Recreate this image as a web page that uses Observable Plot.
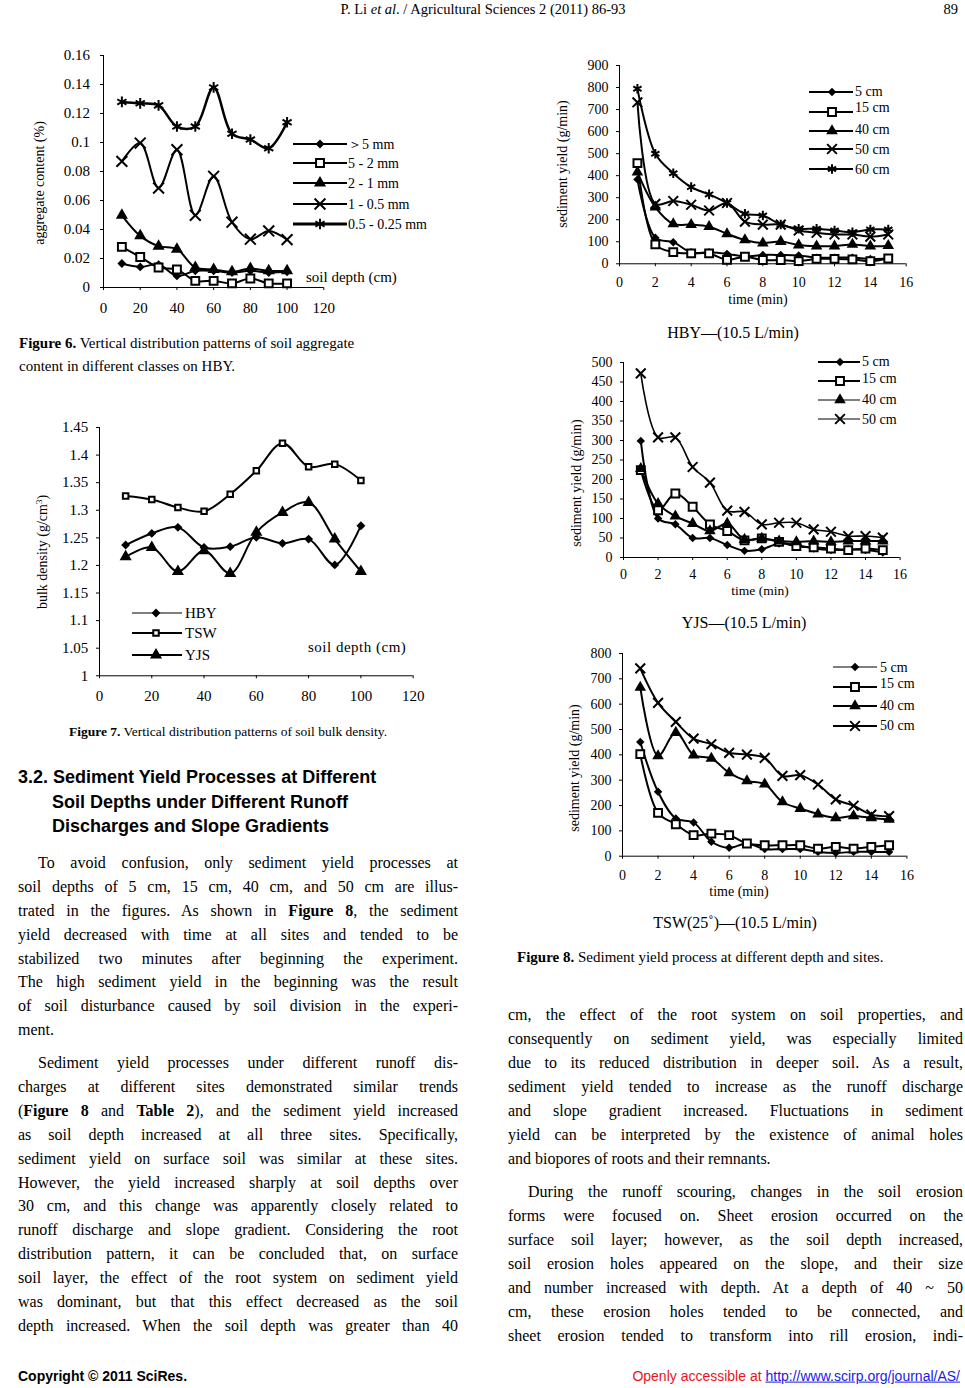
<!DOCTYPE html>
<html><head><meta charset="utf-8">
<script src="https://cdn.jsdelivr.net/npm/d3@7"></script>
<script src="https://cdn.jsdelivr.net/npm/@observablehq/plot@0.6"></script>
<style>
html,body{margin:0;padding:0;background:#fff;}
#page{position:relative;width:965px;height:1388px;overflow:hidden;font-family:"Liberation Serif","Times New Roman",serif;color:#000;background:#fff;}
.t{position:absolute;white-space:nowrap;line-height:1.2;}
.bl{position:absolute;font-size:16px;text-align:justify;text-align-last:justify;overflow:visible;}
.bl.last{text-align-last:left;}
</style></head>
<body><div id="page"></div>
<script>
// ---------------- DATA ----------------
// Figure 6: aggregate content (%) vs soil depth (cm), HBY
const depth = [10,20,30,40,50,60,70,80,90,100];
const aggGt5   = [0.0165,0.0142,0.0158,0.008,0.0115,0.0115,0.0103,0.0115,0.0103,0.0108];
const agg5_2   = [0.028,0.021,0.0138,0.0124,0.0046,0.0046,0.0028,0.0062,0.0028,0.0028];
const agg2_1   = [0.0498,0.0356,0.0285,0.0264,0.0138,0.0124,0.0108,0.0131,0.0115,0.0115];
const agg1_05  = [0.087,0.0996,0.0686,0.095,0.0498,0.0767,0.045,0.0333,0.039,0.033];
const agg05_025= [0.128,0.127,0.1256,0.111,0.111,0.138,0.106,0.102,0.096,0.114];
const aggLabels = ["＞5 mm","5 - 2 mm","2 - 1 mm","1 - 0.5 mm","0.5 - 0.25 mm"];
const fig6XTicks = [0,20,40,60,80,100,120];
const fig6YTicks = [0,0.02,0.04,0.06,0.08,0.1,0.12,0.14,0.16];

// Figure 7: bulk density (g/cm3) vs soil depth (cm)
const bdHBY = [1.237,1.258,1.269,1.2325,1.234,1.251,1.24,1.2477,1.201,1.272];
const bdTSW = [1.326,1.3195,1.305,1.298,1.329,1.3715,1.4216,1.379,1.3836,1.354];
const bdYJS = [1.2156,1.2325,1.189,1.2265,1.1855,1.26,1.296,1.314,1.2477,1.189];
const siteLabels = ["HBY","TSW","YJS"];
const fig7XTicks = [0,20,40,60,80,100,120];
const fig7YTicks = [1,1.05,1.1,1.15,1.2,1.25,1.3,1.35,1.4,1.45];

// Figure 8: sediment yield (g/min) vs time (min)
const time = [1,2,3,4,5,6,7,8,9,10,11,12,13,14,15];
const hby5  = [383,118,98,52,52,45,33,40,40,38,28,28,28,22,24];
const hby15 = [457,88,53,47,47,18,32,17,17,12,22,22,20,12,24];
const hby40 = [416,257,181,178,168,136,108,94,101,85,80,80,88,80,82];
const hby50 = [733,272,285,268,242,276,191,178,178,151,141,133,133,123,133];
const hby60 = [794,499,411,348,315,276,227,219,178,159,159,151,143,156,156];
const yjs5  = [299,100,85,50,50,32,17,21,36,32,23,19,21,19,13];
const yjs15 = [224,121,164,130,85,68,44,49,40,29,26,23,19,23,19];
const yjs40 = [228,138,106,87,68,87,46,49,42,40,42,40,42,42,42];
const yjs50 = [472,308,308,232,192,120,117,85,89,89,72,66,55,55,51];
const tsw5  = [451,254,149,133,57,33,50,28,28,28,17,13,17,17,17];
const tsw15 = [403,171,126,83,89,83,50,43,43,43,30,37,30,37,43];
const tsw40 = [666,396,488,399,386,329,297,284,214,188,166,151,159,151,145];
const tsw50 = [741,605,530,464,442,408,401,388,317,320,283,224,199,164,158];
const depthLabels5 = ["5 cm","15 cm","40 cm","50 cm","60 cm"];
const fig8XTicks = [0,2,4,6,8,10,12,14,16];
const hbyYTicks = [0,100,200,300,400,500,600,700,800,900];
const yjsYTicks = [0,50,100,150,200,250,300,350,400,450,500];
const tswYTicks = [0,100,200,300,400,500,600,700,800];

// ---------------- HELPERS ----------------
const page = document.getElementById("page");
const SERIF = "Liberation Serif, Times New Roman, serif";
const SANS = "Liberation Sans, Arial, sans-serif";

function txt(x, y, html, o = {}) {
  const d = document.createElement("div");
  d.className = "t";
  d.innerHTML = html;
  d.style.left = x + "px"; d.style.top = y + "px";
  d.style.fontSize = (o.size || 16) + "px";
  if (o.family) d.style.fontFamily = o.family;
  if (o.weight) d.style.fontWeight = o.weight;
  if (o.color) d.style.color = o.color;
  if (o.ls) d.style.letterSpacing = o.ls + "px";
  const ax = o.anchor === "middle" ? "-50%" : o.anchor === "end" ? "-100%" : "0";
  d.style.transform = `translate(${ax},-50%)` + (o.rotate ? ` rotate(${o.rotate}deg)` : "");
  page.appendChild(d);
}

function para(x, w, y0, lh, lines, indent, lastJustified) {
  lines.forEach((ln, i) => {
    const d = document.createElement("div");
    d.className = "bl" + (i === lines.length - 1 && !lastJustified ? " last" : "");
    const ind = i === 0 ? indent : 0;
    d.style.left = (x + ind) + "px";
    d.style.width = (w - ind) + "px";
    d.style.top = (y0 + i * lh - lh / 2) + "px";
    d.style.height = lh + "px";
    d.style.lineHeight = lh + "px";
    d.innerHTML = ln;
    page.appendChild(d);
  });
}

const symStyle = {
  diamond2: {fill: "black", stroke: "none", sw: 0},
  square2: {fill: "white", stroke: "black", sw: 2},
  triangle: {fill: "black", stroke: "none", sw: 0},
  times: {fill: "none", stroke: "black", sw: 2},
  asterisk: {fill: "none", stroke: "black", sw: 2}
};

function chart(c) {
  const mL = 60, mR = 10, mT = 10, mB = 30;
  const w = c.x1 - c.x0, h = c.y1 - c.y0;
  const marks = [
    Plot.ruleY([c.yDomain[0]], {stroke: "black", strokeWidth: 1}),
    Plot.ruleX([c.xDomain[0]], {stroke: "black", strokeWidth: 1}),
    Plot.axisX({ticks: c.xTicks, tickSize: 3, tickPadding: c.xPad, label: null, fontSize: c.fs, tickFormat: d3.format("~g")}),
    Plot.axisY({ticks: c.yTicks, tickSize: 3, tickPadding: c.yPad, label: null, fontSize: c.fs, tickFormat: d3.format("~g")})
  ];
  for (const s of c.series) {
    const data = s.x.map((x, i) => ({x, y: s.y[i]}));
    marks.push(Plot.line(data, {x: "x", y: "y", curve: "catmull-rom", stroke: "black", strokeWidth: s.lw || 2}));
  }
  for (const s of c.series) {
    const data = s.x.map((x, i) => ({x, y: s.y[i]}));
    const st = symStyle[s.symbol];
    marks.push(Plot.dot(data, {x: "x", y: "y", symbol: s.symbol, r: s.r || 4, fill: st.fill, stroke: st.stroke, strokeWidth: st.sw}));
  }
  const svg = Plot.plot({
    width: w + mL + mR, height: h + mT + mB,
    marginLeft: mL, marginRight: mR, marginTop: mT, marginBottom: mB,
    x: {domain: c.xDomain}, y: {domain: c.yDomain},
    style: {fontFamily: SERIF, fontSize: c.fs + "px", color: "black", background: "transparent", overflow: "visible"},
    marks
  });
  svg.style.position = "absolute";
  svg.style.left = (c.x0 - mL) + "px";
  svg.style.top = (c.y0 - mT) + "px";
  svg.style.maxWidth = "none";
  page.appendChild(svg);
}

// ---------------- HEADER / FOOTER ----------------
txt(483, 10, "P. Li <i>et al</i>. / Agricultural Sciences 2 (2011) 86-93", {size: 14.5, anchor: "middle"});
txt(958, 10, "89", {size: 14.5, anchor: "end"});
txt(18, 1376, "Copyright © 2011 SciRes.", {size: 14, family: SANS, weight: "bold"});
txt(960, 1376, '<span style="color:#e8141c">Openly accessible at </span><span style="color:#1a1ae6;text-decoration:underline">http://www.scirp.org/journal/AS/</span>', {size: 14, family: SANS, anchor: "end"});

// ---------------- FIGURE 6 ----------------
chart({
  x0: 102.7, x1: 323, y0: 55, y1: 287,
  xDomain: [0, 120], yDomain: [0, 0.16], xTicks: fig6XTicks, yTicks: fig6YTicks,
  fs: 15, xPad: 12, yPad: 10.5,
  series: [
    {x: depth, y: aggGt5, symbol: "diamond2", r: 4},
    {x: depth, y: agg5_2, symbol: "square2", r: 5},
    {x: depth, y: agg2_1, symbol: "triangle", r: 4.5},
    {x: depth, y: agg1_05, symbol: "times", r: 5},
    {x: depth, y: agg05_025, symbol: "asterisk", r: 5, lw: 2.5}
  ]
});
txt(40, 183, "aggregate content (%)", {size: 14, anchor: "middle", rotate: -90});
txt(306, 277, "soil depth (cm)", {size: 15});
txt(19, 343, "<b>Figure 6.</b> Vertical distribution patterns of soil aggregate", {size: 15});
txt(19, 366, "content in different classes on HBY.", {size: 15});

// ---------------- FIGURE 7 ----------------
chart({
  x0: 99.3, x1: 413, y0: 426.7, y1: 675,
  xDomain: [0, 120], yDomain: [1, 1.45], xTicks: fig7XTicks, yTicks: fig7YTicks,
  fs: 15, xPad: 11.5, yPad: 8.3,
  series: [
    {x: depth, y: bdHBY, symbol: "diamond2", r: 4},
    {x: depth, y: bdTSW, symbol: "square2", r: 3.5},
    {x: depth, y: bdYJS, symbol: "triangle", r: 4.5}
  ]
});
txt(43, 552, "bulk density (g/cm<sup style='font-size:9px;vertical-align:5px'>3</sup>)", {size: 14, anchor: "middle", rotate: -90});
txt(308, 647, "soil depth (cm)", {size: 15, ls: 0.5});
txt(228, 732, "<b>Figure 7.</b> Vertical distribution patterns of soil bulk density.", {size: 13.5, anchor: "middle"});

// ---------------- SECTION HEADING + BODY ----------------
txt(18, 778, "3.2. Sediment Yield Processes at Different", {size: 18, family: SANS, weight: "bold"});
txt(52, 803, "Soil Depths under Different Runoff", {size: 18, family: SANS, weight: "bold"});
txt(52, 827, "Discharges and Slope Gradients", {size: 18, family: SANS, weight: "bold"});

para(18, 440, 863, 23.86, [
  "To avoid confusion, only sediment yield processes at",
  "soil depths of 5 cm, 15 cm, 40 cm, and 50 cm are illus-",
  "trated in the figures. As shown in <b>Figure 8</b>, the sediment",
  "yield decreased with time at all sites and tended to be",
  "stabilized two minutes after beginning the experiment.",
  "The high sediment yield in the beginning was the result",
  "of soil disturbance caused by soil division in the experi-",
  "ment."
], 20, false);
para(18, 440, 1063, 23.9, [
  "Sediment yield processes under different runoff dis-",
  "charges at different sites demonstrated similar trends",
  "(<b>Figure 8</b> and <b>Table 2</b>), and the sediment yield increased",
  "as soil depth increased at all three sites. Specifically,",
  "sediment yield on surface soil was similar at these sites.",
  "However, the yield increased sharply at soil depths over",
  "30 cm, and this change was apparently closely related to",
  "runoff discharge and slope gradient. Considering the root",
  "distribution pattern, it can be concluded that, on surface",
  "soil layer, the effect of the root system on sediment yield",
  "was dominant, but that this effect decreased as the soil",
  "depth increased. When the soil depth was greater than 40"
], 20, true);
para(508, 455, 1015, 24, [
  "cm, the effect of the root system on soil properties, and",
  "consequently on sediment yield, was especially limited",
  "due to its reduced distribution in deeper soil. As a result,",
  "sediment yield tended to increase as the runoff discharge",
  "and slope gradient increased. Fluctuations in sediment",
  "yield can be interpreted by the existence of animal holes",
  "and biopores of roots and their remnants."
], 0, false);
para(508, 455, 1192, 24, [
  "During the runoff scouring, changes in the soil erosion",
  "forms were focused on. Sheet erosion occurred on the",
  "surface soil layer; however, as the soil depth increased,",
  "soil erosion holes appeared on the slope, and their size",
  "and number increased with depth. At a depth of 40 ~ 50",
  "cm, these erosion holes tended to be connected, and",
  "sheet erosion tended to transform into rill erosion, indi-"
], 20, true);

// ---------------- FIGURE 8 ----------------
chart({
  x0: 619, x1: 905.7, y0: 65, y1: 263.3,
  xDomain: [0, 16], yDomain: [0, 900], xTicks: fig8XTicks, yTicks: hbyYTicks,
  fs: 14, xPad: 10.4, yPad: 8,
  series: [
    {x: time, y: hby5, symbol: "diamond2", r: 3.8},
    {x: time, y: hby15, symbol: "square2", r: 5},
    {x: time, y: hby40, symbol: "triangle", r: 4.3},
    {x: time, y: hby50, symbol: "times", r: 4.5},
    {x: time, y: hby60, symbol: "asterisk", r: 4.5}
  ]
});
txt(563, 164, "sediment yield (g/min)", {size: 14, anchor: "middle", rotate: -90});
txt(758, 300, "time (min)", {size: 14, anchor: "middle"});
txt(733, 333, "HBY—(10.5 L/min)", {size: 16, anchor: "middle"});

chart({
  x0: 622.7, x1: 899.3, y0: 362.3, y1: 557.3,
  xDomain: [0, 16], yDomain: [0, 500], xTicks: fig8XTicks, yTicks: yjsYTicks,
  fs: 14, xPad: 8.5, yPad: 8,
  series: [
    {x: time, y: yjs5, symbol: "diamond2", r: 3.8},
    {x: time, y: yjs15, symbol: "square2", r: 5},
    {x: time, y: yjs40, symbol: "triangle", r: 4.3},
    {x: time, y: yjs50, symbol: "times", r: 4.5, lw: 1.6}
  ]
});
txt(577, 483, "sediment yield (g/min)", {size: 14, anchor: "middle", rotate: -90});
txt(760, 591, "time (min)", {size: 13.5, anchor: "middle"});
txt(744, 623, "YJS—(10.5 L/min)", {size: 16, anchor: "middle"});

chart({
  x0: 622.3, x1: 906.7, y0: 653.3, y1: 856,
  xDomain: [0, 16], yDomain: [0, 800], xTicks: fig8XTicks, yTicks: tswYTicks,
  fs: 14, xPad: 10.5, yPad: 8,
  series: [
    {x: time, y: tsw5, symbol: "diamond2", r: 3.8},
    {x: time, y: tsw15, symbol: "square2", r: 5},
    {x: time, y: tsw40, symbol: "triangle", r: 4.3},
    {x: time, y: tsw50, symbol: "times", r: 4.5}
  ]
});
txt(575, 768, "sediment yield (g/min)", {size: 14, anchor: "middle", rotate: -90});
txt(739, 892, "time (min)", {size: 14, anchor: "middle"});
txt(735, 923, "TSW(25˚)—(10.5 L/min)", {size: 16, anchor: "middle"});
txt(517, 957, "<b>Figure 8.</b> Sediment yield process at different depth and sites.", {size: 15});

// ---------------- LEGENDS (overlay) ----------------
const overlay = d3.select(page).append("svg")
  .attr("width", 965).attr("height", 1388)
  .style("position", "absolute").style("left", "0px").style("top", "0px").style("pointer-events", "none");
const d3sym = {diamond2: d3.symbolDiamond2, square2: d3.symbolSquare2, triangle: d3.symbolTriangle, times: d3.symbolTimes, asterisk: d3.symbolAsterisk};

function legend(L) {
  L.items.forEach((it, i) => {
    const ly = L.lineY[i], ty = L.textY[i];
    overlay.append("line").attr("x1", L.lx0).attr("x2", L.lx1).attr("y1", ly).attr("y2", ly)
      .attr("stroke", "black").attr("stroke-width", L.lw[i]);
    const st = symStyle[it.symbol];
    const r = it.r || 4;
    overlay.append("path").attr("d", d3.symbol(d3sym[it.symbol], Math.PI * r * r)())
      .attr("transform", `translate(${L.mx},${ly})`)
      .attr("fill", st.fill).attr("stroke", st.stroke).attr("stroke-width", st.sw);
    overlay.append("text").attr("x", L.tx).attr("y", ty).attr("dy", "0.35em")
      .attr("font-family", SERIF).attr("font-size", L.fs).text(it.label);
  });
}

legend({
  items: [
    {label: aggLabels[0], symbol: "diamond2", r: 4},
    {label: aggLabels[1], symbol: "square2", r: 5},
    {label: aggLabels[2], symbol: "triangle", r: 4.5},
    {label: aggLabels[3], symbol: "times", r: 5},
    {label: aggLabels[4], symbol: "asterisk", r: 5}
  ],
  lx0: 293, lx1: 347, mx: 320, tx: 348, fs: 14,
  lineY: [144, 163, 183, 204, 224], textY: [144, 163, 183, 204, 224], lw: [2, 2, 2, 2, 3]
});
legend({
  items: [
    {label: siteLabels[0], symbol: "diamond2", r: 4},
    {label: siteLabels[1], symbol: "square2", r: 3.5},
    {label: siteLabels[2], symbol: "triangle", r: 4.5}
  ],
  lx0: 132, lx1: 182, mx: 156, tx: 185, fs: 15,
  lineY: [613, 633, 655], textY: [613, 633, 655], lw: [1, 2, 2]
});
legend({
  items: depthLabels5.map((l, i) => ({label: l, symbol: ["diamond2","square2","triangle","times","asterisk"][i], r: [3.8,5,4.3,4.5,4.5][i]})),
  lx0: 809, lx1: 853, mx: 832, tx: 855, fs: 14,
  lineY: [92, 112, 131, 149, 169], textY: [91, 107, 129, 149, 169], lw: [2, 2, 2, 2, 2]
});
legend({
  items: depthLabels5.slice(0, 4).map((l, i) => ({label: l, symbol: ["diamond2","square2","triangle","times"][i], r: [3.8,5,4.3,4.5][i]})),
  lx0: 818, lx1: 860, mx: 840, tx: 862, fs: 14,
  lineY: [362, 381, 400, 419], textY: [361, 378, 399, 419], lw: [2, 2, 1, 1]
});
legend({
  items: depthLabels5.slice(0, 4).map((l, i) => ({label: l, symbol: ["diamond2","square2","triangle","times"][i], r: [3.8,5,4.3,4.5][i]})),
  lx0: 833, lx1: 877, mx: 855, tx: 880, fs: 14,
  lineY: [667, 687, 706, 726], textY: [667, 683, 705, 725], lw: [1, 2, 2, 2]
});
</script>
</body></html>
